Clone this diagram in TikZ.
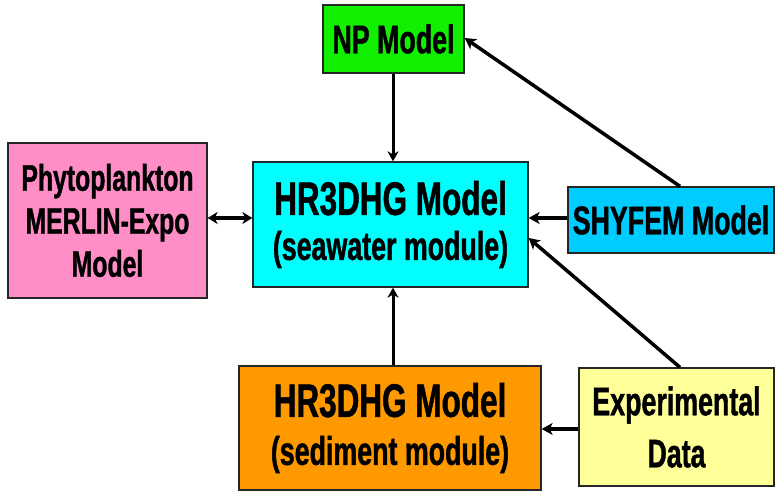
\documentclass[tikz,border=0pt]{standalone}
\usepackage{fontspec}
\newfontfamily\nf{Liberation Sans}[FakeStretch=0.67,FakeBold=1]
\usetikzlibrary{arrows.meta,calc}
\definecolor{npgreen}{HTML}{11F000}
\definecolor{pinkbox}{HTML}{FF8EC6}
\definecolor{seacyan}{HTML}{00FFFF}
\definecolor{shyblue}{HTML}{00CCFF}
\definecolor{sedorange}{HTML}{FF9900}
\definecolor{expyellow}{HTML}{FFFF99}
\begin{document}
\begin{tikzpicture}[x=1pt,y=-1pt,
  box/.style={draw=black!85, line width=1.3pt, inner sep=0pt, align=center},
  conn/.style={line width=3.5pt, -{Stealth[length=11pt,width=12pt,inset=3pt]}},
  vconn/.style={line width=3pt, -{Stealth[length=10pt,width=11pt,inset=3pt]}},
  biconn/.style={line width=3.5pt, {Stealth[length=10pt,width=12pt,inset=3pt]}-{Stealth[length=10pt,width=12pt,inset=3pt]}}]
\useasboundingbox (0,0) rectangle (777,492);
\node[box, fill=npgreen, minimum width=141pt, minimum height=68pt,
  font=\nf\bfseries\fontsize{40}{44}\selectfont] (np) at (393.5,39) {NP Model};
\node[box, fill=pinkbox, minimum width=199pt, minimum height=155pt,
  font=\nf\bfseries\fontsize{37}{43}\selectfont] (pink) at (107.5,220.5) {Phytoplankton\\MERLIN-Expo\\Model};
\node[box, fill=seacyan, minimum width=275pt, minimum height=125pt,
  font=\nf\bfseries\fontsize{40}{45}\selectfont] (sea) at (390.5,224.5)
  {{\fontsize{47}{50}\selectfont HR3DHG Model}\\(seawater module)};
\node[box, fill=shyblue, minimum width=206pt, minimum height=66pt,
  font=\nf\bfseries\fontsize{40}{44}\selectfont] (shy) at (671,220) {SHYFEM Model};
\node[box, fill=sedorange, minimum width=302pt, minimum height=124pt,
  font=\nf\bfseries\fontsize{40}{48}\selectfont] (sed) at (390,428)
  {{\fontsize{47}{50}\selectfont HR3DHG Model}\\(sediment module)};
\node[box, fill=expyellow, minimum width=195pt, minimum height=118pt,
  font=\nf\bfseries\fontsize{40}{52}\selectfont] (exp) at (676.5,427) {Experimental\\Data};
% connectors
\draw[vconn] ([xshift=-0.5pt]np.south) -- ([xshift=-0.5pt]np.south |- sea.north);
\draw[conn] ([xshift=9pt]shy.north) -- ([yshift=1pt]np.east);
\draw[conn] ([yshift=2pt]shy.west) -- ([yshift=2pt]shy.west -| sea.east);
\draw[conn] ([xshift=3.5pt]exp.north) -- ([yshift=-13.5pt]sea.east);
\draw[conn] ([yshift=-2pt]exp.west) -- ([yshift=-2pt]exp.west -| sed.east);
\draw[vconn] ([xshift=3pt]sed.north) -- ([xshift=3pt]sed.north |- sea.south);
\draw[biconn] ([yshift=2.5pt]pink.east) -- ([yshift=2.5pt]pink.east -| sea.west);
\end{tikzpicture}
\end{document}
